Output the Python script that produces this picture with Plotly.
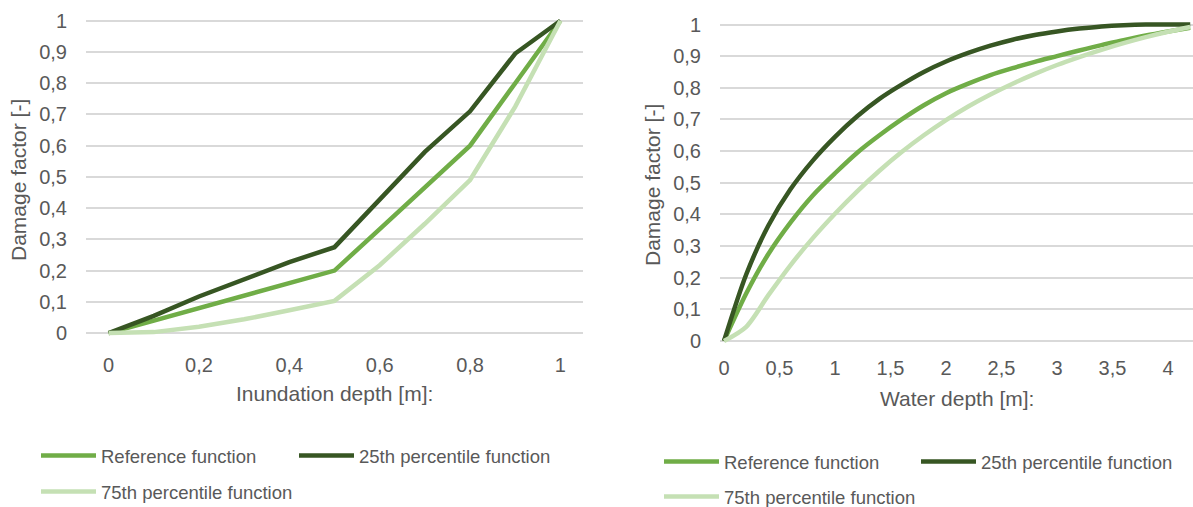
import plotly.graph_objects as go

# ---- left panel: damage factor vs. inundation depth ----
inund_depth = [0, 0.1, 0.2, 0.3, 0.4, 0.5, 0.6, 0.7, 0.8, 0.9, 1.0]
inund_reference = [0, 0.04, 0.08, 0.12, 0.16, 0.20, 0.333, 0.467, 0.60, 0.80, 1.0]
inund_p25 = [0, 0.055, 0.117, 0.172, 0.227, 0.275, 0.43, 0.58, 0.71, 0.895, 1.0]
inund_p75 = [0, 0.003, 0.02, 0.044, 0.073, 0.103, 0.217, 0.35, 0.49, 0.725, 1.0]
inund_ticks = [0, 0.2, 0.4, 0.6, 0.8, 1]
inund_ticktext = ["0", "0,2", "0,4", "0,6", "0,8", "1"]

# ---- right panel: damage factor vs. water depth ----
water_depth = [0, 0.2, 0.4, 0.6, 0.8, 1.0, 1.2, 1.4, 1.6, 1.8, 2.0,
               2.2, 2.4, 2.6, 2.8, 3.0, 3.2, 3.4, 3.6, 3.8, 4.0, 4.2]
water_reference = [0, 0.15, 0.275, 0.375, 0.46, 0.53, 0.595, 0.65, 0.70, 0.745, 0.783,
                   0.813, 0.84, 0.862, 0.882, 0.90, 0.918, 0.935, 0.95, 0.965, 0.978, 0.99]
water_p25 = [0, 0.21, 0.365, 0.48, 0.57, 0.645, 0.71, 0.765, 0.81, 0.85, 0.883,
             0.91, 0.933, 0.952, 0.967, 0.978, 0.987, 0.994, 0.998, 1.0, 1.0, 1.0]
water_p75 = [0, 0.045, 0.145, 0.24, 0.325, 0.402, 0.473, 0.538, 0.597, 0.65, 0.698,
             0.741, 0.779, 0.813, 0.844, 0.872, 0.897, 0.92, 0.941, 0.96, 0.977, 0.992]
water_ticks = [0, 0.5, 1, 1.5, 2, 2.5, 3, 3.5, 4]
water_ticktext = ["0", "0,5", "1", "1,5", "2", "2,5", "3", "3,5", "4"]

# ---- shared y axis ----
damage_ticks = [0, 0.1, 0.2, 0.3, 0.4, 0.5, 0.6, 0.7, 0.8, 0.9, 1]
damage_ticktext = ["0", "0,1", "0,2", "0,3", "0,4", "0,5", "0,6", "0,7", "0,8", "0,9", "1"]

series_names = ["Reference function", "25th percentile function", "75th percentile function"]
series_colors = ["#70AD47", "#375623", "#C5E0B4"]

FONT = "Liberation Sans, Arial, sans-serif"
TEXT = "#595959"
GRID = "#D9D9D9"
W, H = 1193, 507

fig = go.Figure()

left_values = [inund_reference, inund_p25, inund_p75]
right_values = [water_reference, water_p25, water_p75]

for i, (name, vals, color) in enumerate(zip(series_names, left_values, series_colors)):
    fig.add_trace(go.Scatter(
        x=inund_depth, y=vals, mode="lines", name=name,
        line=dict(color=color, width=4.5),
        xaxis="x", yaxis="y", legend="legend" if i == 0 else f"legend{i + 1}",
    ))

for i, (name, vals, color) in enumerate(zip(series_names, right_values, series_colors)):
    fig.add_trace(go.Scatter(
        x=water_depth, y=vals, mode="lines", name=name,
        line=dict(color=color, width=4.5, shape="spline", smoothing=0.8),
        xaxis="x2", yaxis="y2", legend=f"legend{i + 4}",
    ))


def px_x(p):
    return p / W


def px_y(p):
    return 1 - p / H


tick_font = dict(family=FONT, size=20, color=TEXT)
title_font = dict(family=FONT, size=21, color=TEXT)

yaxis_common = dict(
    range=[-0.012, 1.012], tickvals=damage_ticks, ticktext=damage_ticktext,
    showgrid=True, gridcolor=GRID, gridwidth=1.6, zeroline=False, showline=False,
    ticks="outside", ticklen=14, tickcolor="rgba(0,0,0,0)", tickfont=tick_font,
    automargin=False,
)
xaxis_common = dict(
    showgrid=False, zeroline=False, showline=False,
    ticks="outside", ticklen=10, tickcolor="rgba(0,0,0,0)", tickfont=tick_font,
    automargin=False,
)

legend_common = dict(
    orientation="h", xanchor="left", yanchor="middle",
    bgcolor="rgba(0,0,0,0)", borderwidth=0, itemwidth=55,
    font=dict(family=FONT, size=18.5, color=TEXT),
)

legend_pos = {
    "legend": (36, 456), "legend2": (294, 456), "legend3": (36, 492),
    "legend4": (659, 462), "legend5": (916, 462), "legend6": (659, 497),
}
legends = {k: dict(legend_common, x=px_x(x), y=px_y(y)) for k, (x, y) in legend_pos.items()}


def label(text, x, y, angle=0):
    return dict(text=text, x=px_x(x), y=px_y(y), xref="paper", yref="paper",
                xanchor="center", yanchor="middle", textangle=angle,
                showarrow=False, font=title_font)


fig.update_layout(
    width=W, height=H,
    margin=dict(l=0, r=0, t=0, b=0, autoexpand=False),
    paper_bgcolor="white", plot_bgcolor="white",
    font=dict(family=FONT, color=TEXT),
    xaxis=dict(xaxis_common, domain=[px_x(86), px_x(583)], range=[-0.05, 1.05],
               tickvals=inund_ticks, ticktext=inund_ticktext, anchor="y"),
    yaxis=dict(yaxis_common, domain=[px_y(336.8), px_y(17)], anchor="x"),
    xaxis2=dict(xaxis_common, domain=[px_x(720), 1.0], range=[-0.036, 4.225],
                tickvals=water_ticks, ticktext=water_ticktext, anchor="y2", ticklen=5),
    yaxis2=dict(yaxis_common, domain=[px_y(344.8), px_y(20.7)], anchor="x2"),
    annotations=[
        label("Damage factor [-]", 18, 180, -90),
        label("Damage factor [-]", 652, 185, -90),
        label("Inundation depth [m]:", 334, 393),
        label("Water depth [m]:", 957, 398),
    ],
    showlegend=True,
    **legends,
)

fig.write_html("out.html")
